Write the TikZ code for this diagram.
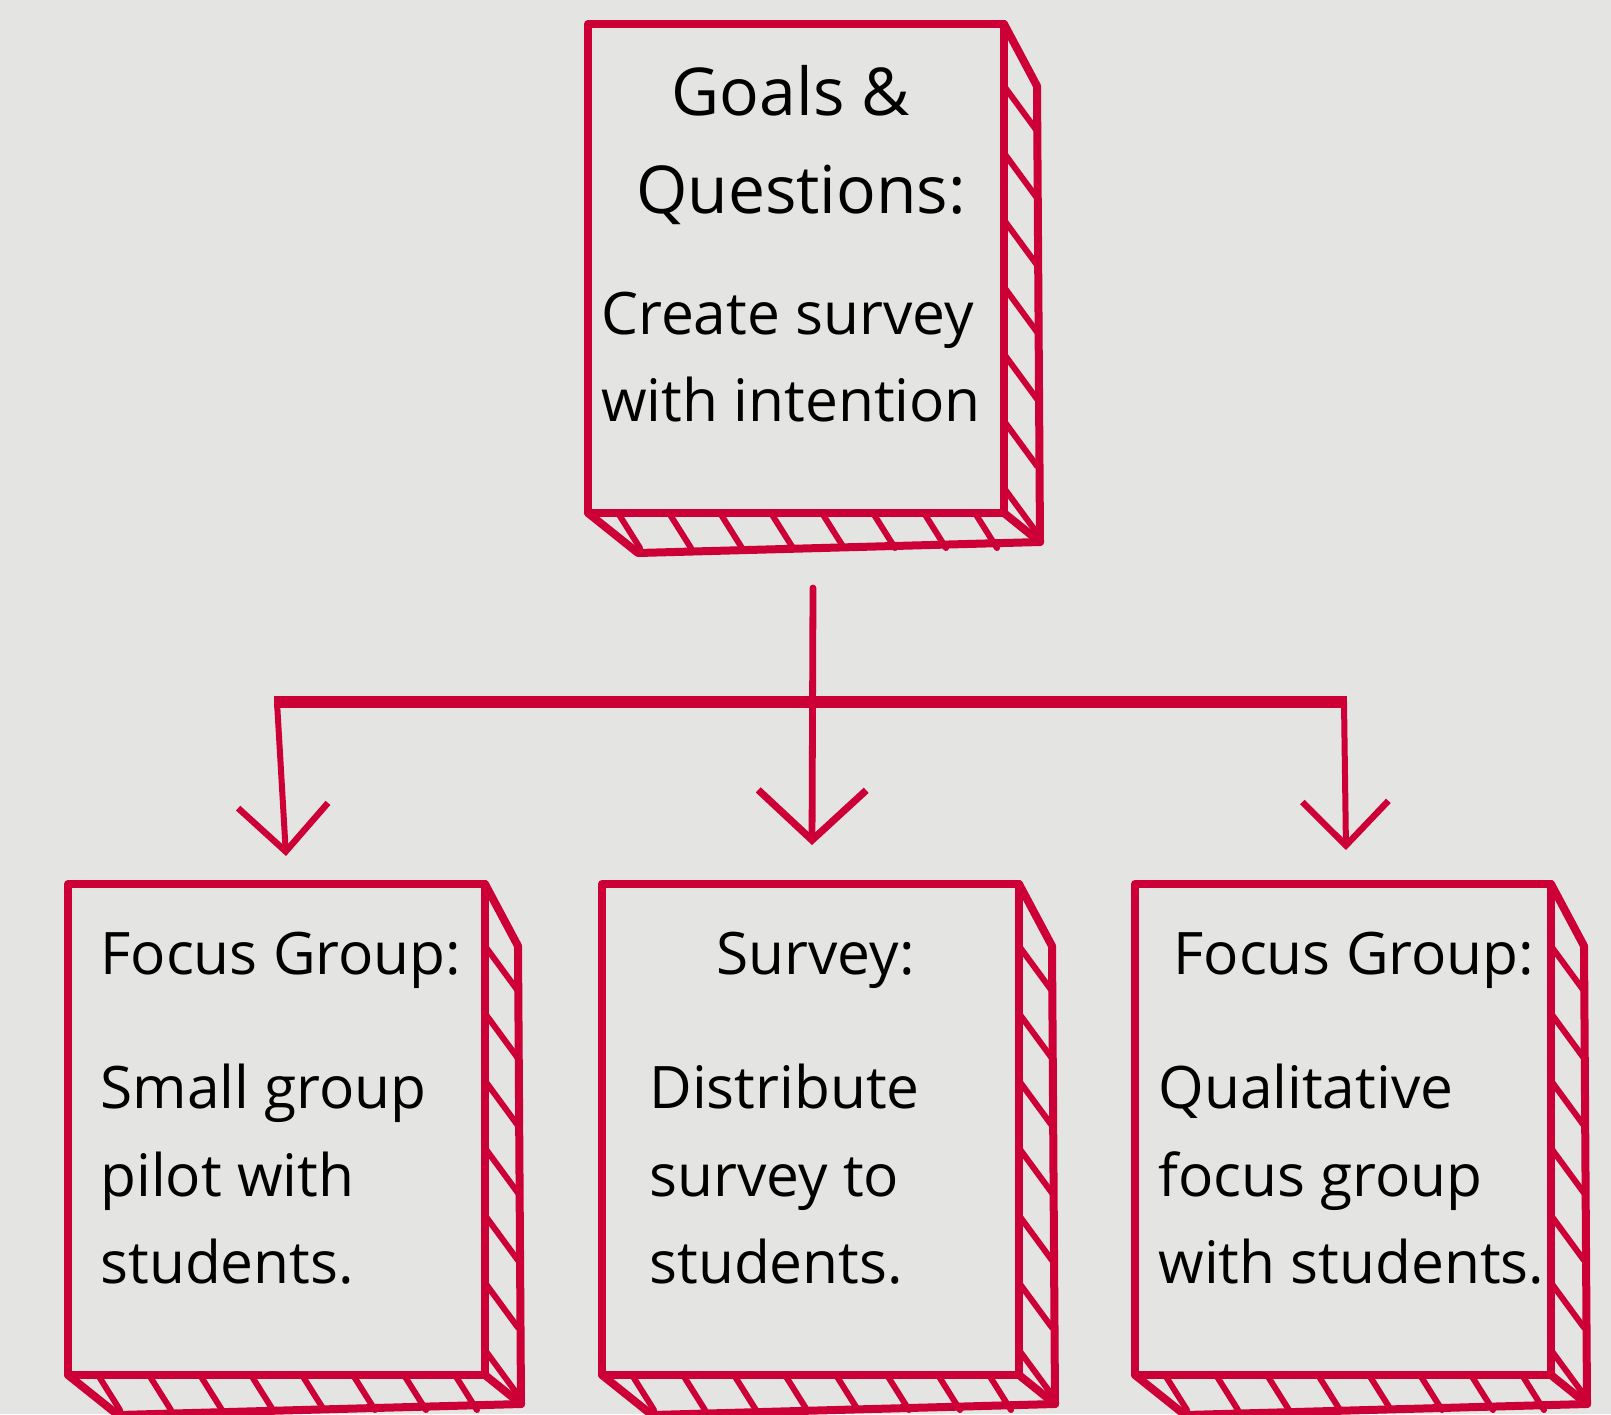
\documentclass[tikz,border=0pt]{standalone}
\usepackage{fontspec}
\setmainfont{Open Sans}
\usetikzlibrary{arrows.meta}
\definecolor{bg}{HTML}{E4E4E2}
\definecolor{cred}{HTML}{CC0036}
\tikzset{
  boxline/.style={draw=cred, line width=4pt, line join=round, line cap=round},
  hatchline/.style={draw=cred, line width=3pt, line cap=round},
  frontface/.style={draw=cred, line width=4pt, line join=round, inner sep=0pt, outer sep=0pt, anchor=north west},
  txt/.style={anchor=base west, inner sep=0pt, text=black, font=\fontsize{29.3}{29.3}\selectfont},
  ttl/.style={anchor=base, inner sep=0pt, text=black, font=\fontsize{33}{33}\selectfont},
  conn/.style={draw=cred, line width=3pt, line cap=round},
  barline/.style={draw=cred, line width=6pt, line cap=butt},
}
% #1 name, #2 L, #3 T, #4 R, #5 B
\newcommand\sketchbox[5]{%
  \node[frontface, minimum width={(#4-#2)*0.5pt}, minimum height={(#5-#3)*0.5pt}] (#1) at (#2,#3) {};
  \draw[boxline] (#4,#3) -- ({#4+33},{#3+62}) -- ({#4+36},{#5+29}) -- (#4,#5);
  \draw[boxline] (#2,#5) -- ({#2+50},{#5+40}) -- ({#4+36},{#5+29});
  \foreach \k in {0,...,6} {
    \draw[hatchline] (#4,{#3+62+\k*(#5-#3-87)/6}) -- ++(33,45);
  }
  \pgfmathsetmacro\nh{floor((#4-#2-40)/51)}
  \foreach \k in {0,...,\nh} {
    \draw[hatchline] ({#2+30+\k*51},#5) -- ++(22,35);
  }
}
\begin{document}
\begin{tikzpicture}[x=0.5pt,y=-0.5pt]
  \fill[bg] (0,0) rectangle (1611,1414);
  \useasboundingbox (0,0) rectangle (1611,1414);

  \sketchbox{top}{588}{24}{1004}{513}
  \sketchbox{left}{68}{884}{485}{1375}
  \sketchbox{mid}{602}{884}{1019}{1375}
  \sketchbox{right}{1135}{884}{1551}{1375}

  % texts
  \node[ttl] (t1) at (791,115) {Goals \&};
  \node[ttl] (t2) at (801,213) {Questions:};
  \node[txt] (t3) at (601,334) {Create survey};
  \node[txt] (t4) at (601,421) {with intention};

  \node[txt] (a1) at (100,974) {Focus Group:};
  \node[txt] (a2) at (100,1108) {Small group};
  \node[txt] (a3) at (100,1196) {pilot with};
  \node[txt] (a4) at (100,1283) {students.};

  \node[txt] (b1) at (716,974) {Survey:};
  \node[txt] (b2) at (649,1108) {Distribute};
  \node[txt] (b3) at (649,1196) {survey to};
  \node[txt] (b4) at (649,1283) {students.};

  \node[txt] (c1) at (1173,974) {Focus Group:};
  \node[txt] (c2) at (1158,1108) {Qualitative};
  \node[txt] (c3) at (1158,1196) {focus group};
  \node[txt] (c4) at (1158,1283) {with students.};

  % connectors
  \coordinate (stemtop) at (813,588);
  \coordinate (tipM) at (812,845);
  \coordinate (barL) at (277,702);
  \coordinate (barR) at (1344,702);
  \coordinate (tipL) at (286,856);
  \coordinate (tipR) at (1346,850);
  \draw[barline] ([xshift=-1.5pt]barL) -- ([xshift=1.5pt]barR);
  \draw[conn, line width=3.4pt, -{Straight Barb[length=25pt,width=54pt,line width=3.6pt]}] (stemtop) -- (tipM);
  \draw[conn, -{Straight Barb[length=23pt,width=45pt,line width=3.2pt]}] (barL) -- (tipL);
  \draw[conn, -{Straight Barb[length=22pt,width=43pt,line width=3.2pt]}] (barR) -- (tipR);
\end{tikzpicture}
\end{document}
